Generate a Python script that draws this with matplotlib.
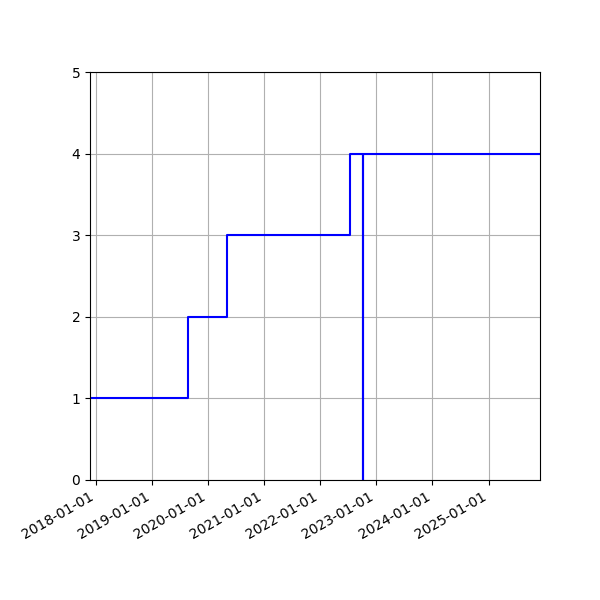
import numpy as np
import pandas as pd
import matplotlib
matplotlib.use("Agg")
import matplotlib.pyplot as plt
import matplotlib.dates as mdates

dates = pd.to_datetime(["2017-11-26", "2019-08-24", "2020-05-03", "2022-07-13",
                        "2022-10-04", "2022-10-04", "2025-12-01"])
counts = [1, 2, 3, 4, 0, 4, 4]

fig, ax = plt.subplots(figsize=(6, 6), dpi=100)
ax.step(dates, counts, where="post", color="b")
ax.set_xlim(dates[0], dates[-1])
ax.set_ylim(0, 5)
ax.xaxis.set_major_locator(mdates.YearLocator())
ax.xaxis.set_major_formatter(mdates.DateFormatter("%Y-%m-%d"))
ax.grid(True)
fig.autofmt_xdate()
fig.subplots_adjust(left=0.15)
fig.savefig("out.png")
